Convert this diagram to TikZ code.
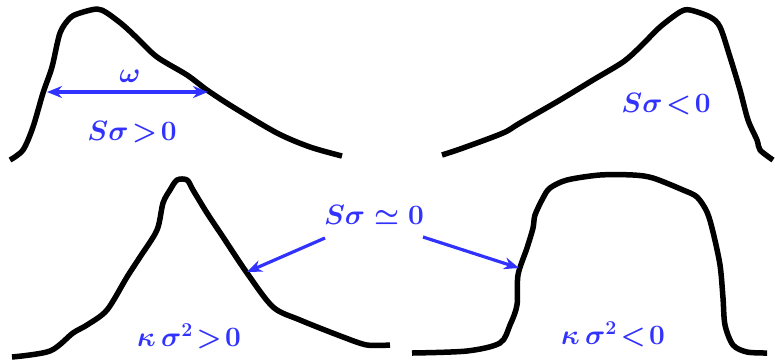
\RequirePackage{fix-cm}
\documentclass[tikz,border=0pt]{standalone}
\usetikzlibrary{arrows.meta}
\definecolor{lblue}{RGB}{50,50,255}
\begin{document}
\begin{tikzpicture}[x=1pt,y=-1pt,
  curve/.style={line width=5.5pt,line join=round,line cap=butt},
  lab/.style={text=lblue,font=\fontsize{28}{31}\selectfont\boldmath,inner sep=0pt},
  arr/.style={draw=lblue,line width=3.2pt,-{Stealth[length=15pt,width=12pt]}},
  darr/.style={draw=lblue,line width=3.2pt,{Stealth[length=15pt,width=12pt]}-{Stealth[length=15pt,width=12pt]}}]
\useasboundingbox (0,0) rectangle (775,360);
% top-left
\draw[curve] plot[smooth,tension=0.5] coordinates {(10,160) (23,150) (33,127) (43,93) (52,67) (60,33) (70,18) (80,13) (97,9) (107,13) (123,25) (137,38) (157,57) (187,75) (207,90) (233,107) (277,133) (310,147) (342,156)};
% top-right
\draw[curve] plot[smooth,tension=0.5] coordinates {(442,155) (463,148) (503,133) (520,123) (560,100) (593,80) (623,62) (640,47) (660,27) (680,12) (690,10) (710,17) (720,27) (730,57) (740,90) (748,120) (757,140) (760,150) (773,160)};
% bottom-left
\draw[curve] plot[smooth,tension=0.5] coordinates {(12,357) (50,351) (73,333) (87,325) (107,310) (127,277) (140,257) (157,230) (163,203) (170,190) (177,180) (187,180) (193,190) (207,213) (223,237) (247,273) (273,307) (300,320) (343,337) (367,345) (390,345)};
% bottom-right
\draw[curve] plot[smooth,tension=0.5] coordinates {(412,353) (467,351) (500,343) (510,325) (517,305) (518,275) (527,248) (533,228) (535,215) (543,198) (550,188) (567,180) (600,175) (633,175) (653,178) (683,190) (697,197) (707,212) (713,232) (720,265) (723,298) (725,325) (733,345) (747,352) (767,353)};
% labels
\node[lab] (om) at (130,76) {$\omega$};
\node[lab] (sp) at (132,132) {$S\sigma\!>\!0$};
\node[lab] (sn) at (666,104) {$S\sigma\!<\!0$};
\node[lab] (s0) at (374,215) {$S\sigma\simeq 0$};
\node[lab] (kp) at (189,336) {$\kappa\,\sigma^2\!>\!0$};
\node[lab] (kn) at (613,334) {$\kappa\,\sigma^2\!<\!0$};
% arrow end points
\coordinate (wl) at (47,92);
\coordinate (wr) at (208,92);
\coordinate (a1s) at (325,238);
\coordinate (a1e) at (247,272);
\coordinate (a2s) at (423,237);
\coordinate (a2e) at (519,268);
\draw[darr] (wl) -- (wr);
\draw[arr] (a1s) -- (a1e);
\draw[arr] (a2s) -- (a2e);
\end{tikzpicture}
\end{document}
